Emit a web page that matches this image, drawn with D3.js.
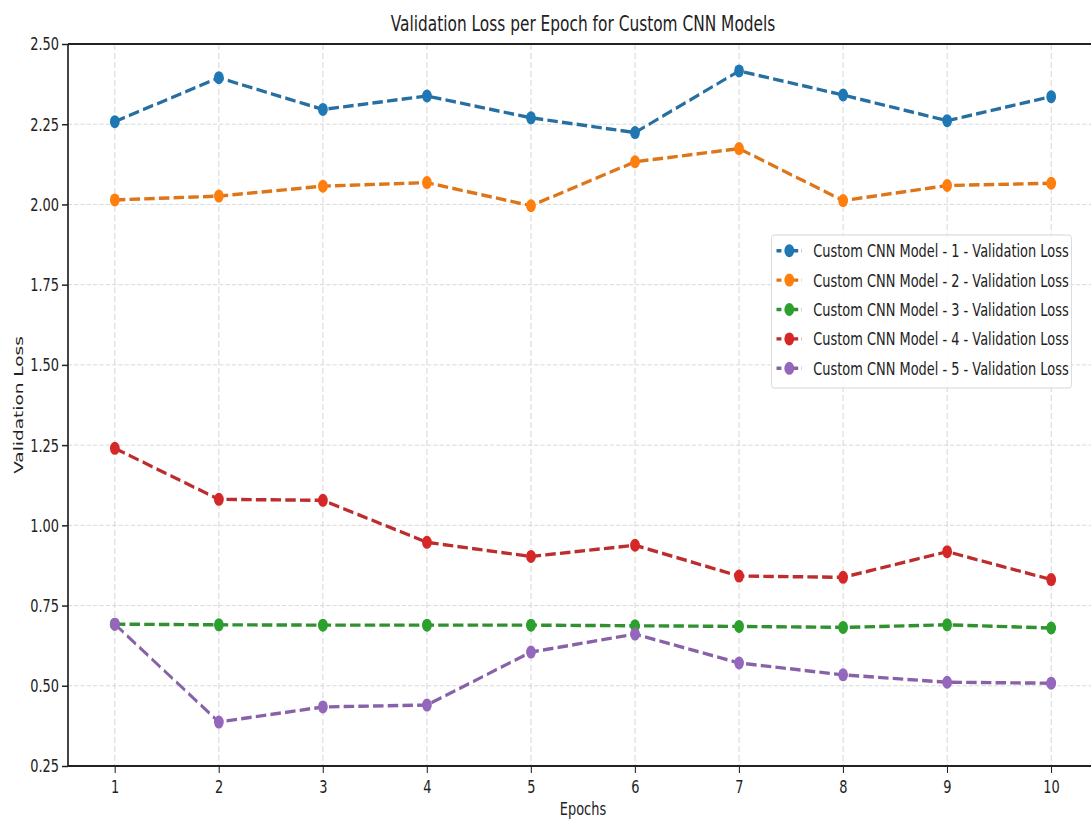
<!DOCTYPE html>
<html>
<head>
<meta charset="utf-8">
<script src="https://cdn.jsdelivr.net/npm/d3@7"></script>
<style>
  body { margin: 0; background: #fff; }
  text { font-family: "DejaVu Sans", sans-serif; fill: #222; }
</style>
</head>
<body>
<svg id="chart"></svg>
<script>
// values
const epochs = [1, 2, 3, 4, 5, 6, 7, 8, 9, 10];
const model1 = [2.258, 2.395, 2.296, 2.338, 2.270, 2.224, 2.416, 2.341, 2.261, 2.336];
const model2 = [2.014, 2.026, 2.057, 2.068, 1.996, 2.133, 2.174, 2.012, 2.059, 2.066];
const model3 = [0.692, 0.690, 0.689, 0.689, 0.689, 0.687, 0.685, 0.682, 0.690, 0.680];
const model4 = [1.240, 1.081, 1.078, 0.947, 0.903, 0.938, 0.842, 0.838, 0.918, 0.831];
const model5 = [0.692, 0.387, 0.434, 0.440, 0.605, 0.661, 0.571, 0.534, 0.511, 0.508];
const seriesNames = [
  "Custom CNN Model - 1 - Validation Loss",
  "Custom CNN Model - 2 - Validation Loss",
  "Custom CNN Model - 3 - Validation Loss",
  "Custom CNN Model - 4 - Validation Loss",
  "Custom CNN Model - 5 - Validation Loss"
];
const colors = ["#1f77b4", "#ff7f0e", "#2ca02c", "#d62728", "#9467bd"];
const yTicks = [0.25, 0.50, 0.75, 1.00, 1.25, 1.50, 1.75, 2.00, 2.25, 2.50];

const series = [model1, model2, model3, model4, model5].map((vals, i) => ({
  name: seriesNames[i],
  color: colors[i],
  values: vals.map((v, j) => ({ epoch: epochs[j], loss: v }))
}));

drawChart(series);

function drawChart(series) {
  const svgWidth = 1091;
  const svgHeight = 825;
  // the reference is squeezed horizontally, so draw wide and scale x down
  const sx = 0.7;
  const X = px => px / sx;

  const svg = d3.select("#chart")
    .attr("width", svgWidth)
    .attr("height", svgHeight);

  const g = svg.append("g").attr("transform", `scale(${sx},1)`);

  const plot = { left: 68, right: 1098, top: 44, bottom: 766 };

  const xScale = d3.scaleLinear()
    .domain([0.55, 10.45])
    .range([X(plot.left), X(plot.right)]);

  const yScale = d3.scaleLinear()
    .domain([0.25, 2.5])
    .range([plot.bottom, plot.top]);

  // grid
  g.append("g")
    .selectAll("line")
    .data(epochs)
    .join("line")
    .attr("x1", d => xScale(d)).attr("x2", d => xScale(d))
    .attr("y1", plot.top).attr("y2", plot.bottom)
    .attr("stroke", "#d2d2d2")
    .attr("stroke-width", 1.3)
    .attr("stroke-dasharray", "6,3");

  g.append("g")
    .selectAll("line")
    .data(yTicks)
    .join("line")
    .attr("x1", X(plot.left)).attr("x2", X(plot.right))
    .attr("y1", d => yScale(d)).attr("y2", d => yScale(d))
    .attr("stroke", "#d2d2d2")
    .attr("stroke-width", 1)
    .attr("stroke-dasharray", "6,3");

  // axes
  const xAxis = d3.axisBottom(xScale).tickValues(epochs).tickSize(7).tickPadding(7).tickFormat(d3.format("d"));
  const yAxis = d3.axisLeft(yScale).tickValues(yTicks).tickSize(X(6)).tickPadding(X(3)).tickFormat(d3.format(".2f"));

  const gx = g.append("g")
    .attr("transform", `translate(0,${plot.bottom})`)
    .call(xAxis);
  const gy = g.append("g")
    .attr("transform", `translate(${X(plot.left)},0)`)
    .call(yAxis);

  [gx, gy].forEach(a => {
    a.select(".domain").remove();
    a.selectAll(".tick line").attr("stroke", "#222").attr("stroke-width", 1.5);
    a.selectAll(".tick text")
      .style("font-family", "DejaVu Sans, sans-serif")
      .style("font-size", "18.5px")
      .attr("fill", "#1a1a1a");
  });

  // spines (right one falls outside the picture)
  g.append("line")
    .attr("x1", X(plot.left)).attr("x2", X(plot.right))
    .attr("y1", plot.top).attr("y2", plot.top)
    .attr("stroke", "#222").attr("stroke-width", 2);
  g.append("line")
    .attr("x1", X(plot.left)).attr("x2", X(plot.right))
    .attr("y1", plot.bottom).attr("y2", plot.bottom)
    .attr("stroke", "#222").attr("stroke-width", 2);
  g.append("line")
    .attr("x1", X(plot.left)).attr("x2", X(plot.left))
    .attr("y1", plot.top).attr("y2", plot.bottom)
    .attr("stroke", "#222").attr("stroke-width", 2.4);

  // lines + markers
  const line = d3.line()
    .x(d => xScale(d.epoch))
    .y(d => yScale(d.loss));

  const lineColor = c => d3.interpolateRgb(c, "#4a4a4a")(0.18);

  series.forEach(s => {
    g.append("path")
      .datum(s.values)
      .attr("fill", "none")
      .attr("stroke", lineColor(s.color))
      .attr("stroke-width", 3.4)
      .attr("stroke-dasharray", "15,6")
      .attr("d", line);

    g.append("g")
      .selectAll("ellipse")
      .data(s.values)
      .join("ellipse")
      .attr("cx", d => xScale(d.epoch))
      .attr("cy", d => yScale(d.loss))
      .attr("rx", 7)
      .attr("ry", 6.5)
      .attr("fill", s.color);
  });

  // title and labels
  g.append("text")
    .attr("x", xScale(5.5))
    .attr("y", 31)
    .attr("text-anchor", "middle")
    .style("font-size", "22px")
    .text("Validation Loss per Epoch for Custom CNN Models");

  g.append("text")
    .attr("x", xScale(5.5))
    .attr("y", 815)
    .attr("text-anchor", "middle")
    .style("font-size", "18.5px")
    .text("Epochs");

  g.append("text")
    .attr("transform", `translate(${X(23)},${(plot.top + plot.bottom) / 2}) rotate(-90)`)
    .attr("text-anchor", "middle")
    .style("font-size", "18.5px")
    .text("Validation Loss");

  // legend
  const legend = g.append("g");
  legend.append("rect")
    .attr("x", X(771.5)).attr("y", 235)
    .attr("width", X(1071.5) - X(771.5)).attr("height", 153)
    .attr("rx", 4)
    .attr("fill", "#fff").attr("fill-opacity", 0.85)
    .attr("stroke", "#d6d6d6").attr("stroke-width", 1.2);

  const rows = legend.selectAll("g.row")
    .data(series)
    .join("g")
    .attr("class", "row")
    .attr("transform", (d, i) => `translate(0,${250.7 + i * 29.4})`);

  rows.append("line")
    .attr("x1", X(776.5)).attr("x2", X(802))
    .attr("y1", 0).attr("y2", 0)
    .attr("stroke", d => lineColor(d.color))
    .attr("stroke-width", 3.4)
    .attr("stroke-dasharray", "7,5");
  rows.append("ellipse")
    .attr("cx", X(789.3)).attr("cy", 0)
    .attr("rx", 7).attr("ry", 6.5)
    .attr("fill", d => d.color);
  rows.append("text")
    .attr("x", X(813.3))
    .attr("y", 0)
    .attr("dy", "0.35em")
    .style("font-size", "18.5px")
    .text(d => d.name);
}
</script>
</body>
</html>
